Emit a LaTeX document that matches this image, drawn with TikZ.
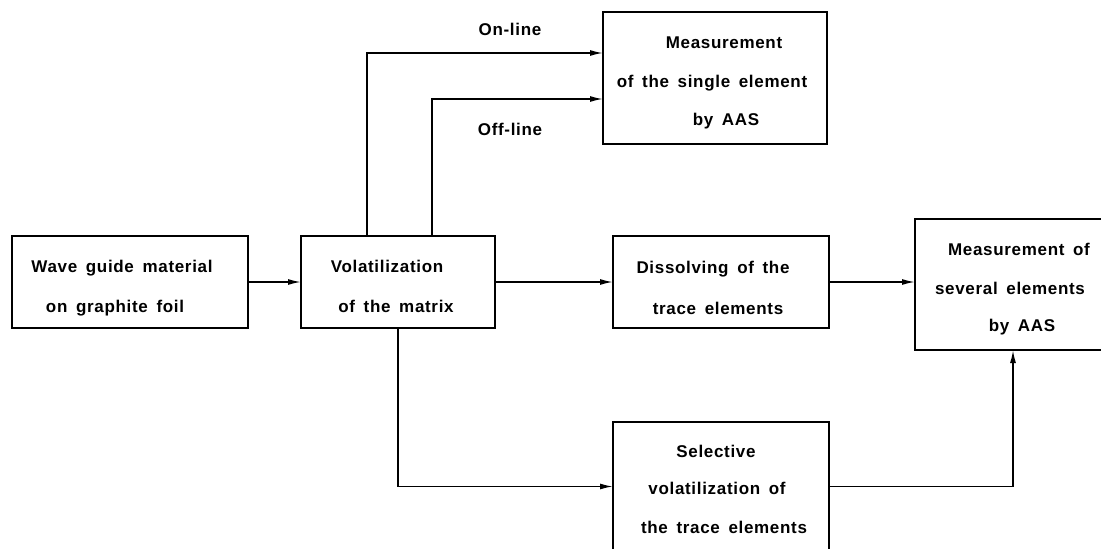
\documentclass[tikz,border=0pt]{standalone}
\usepackage{fontspec}
\setmainfont{Liberation Sans}[LetterSpace=4,WordSpace=1.6]
\usetikzlibrary{arrows.meta}
\begin{document}
\begin{tikzpicture}[x=1pt,y=-1pt,
  line width=1.6pt,
  box/.style={draw,rectangle,inner sep=0pt,outer sep=0pt,line width=1.6pt},
  txt/.style={anchor=base,inner sep=0pt,font=\fontsize{17}{20}\selectfont\bfseries},
  arr/.style={-{Latex[length=13pt,width=6pt]}}]
\useasboundingbox (0,0) rectangle (1101,549);
\clip (0,0) rectangle (1101,549);
% boxes
\node[box,minimum width=236pt,minimum height=92pt] (A) at (130,282) {};
\node[box,minimum width=194pt,minimum height=92pt] (B) at (398,282) {};
\node[box,minimum width=224pt,minimum height=132pt] (C) at (715,78) {};
\node[box,minimum width=216pt,minimum height=92pt] (D) at (721,282) {};
\node[box,minimum width=196pt,minimum height=131pt] (E) at (1013,284.5) {};
\node[box,minimum width=216pt,minimum height=129pt] (F) at (721,486.5) {};
% texts
\node[txt] (a1) at (122,272) {Wave guide material};
\node[txt] (a2) at (115,312) {on graphite foil};
\node[txt] (b1) at (387,272) {Volatilization};
\node[txt] (b2) at (396,312) {of the matrix};
\node[txt] (c1) at (724,48) {Measurement};
\node[txt] (c2) at (712,87) {of the single element};
\node[txt] (c3) at (726,125) {by AAS};
\node[txt] (d1) at (713,273) {Dissolving of the};
\node[txt] (d2) at (718,314) {trace elements};
\node[txt] (e1) at (1019,255) {Measurement of};
\node[txt] (e2) at (1010,294) {several elements};
\node[txt] (e3) at (1022,331) {by AAS};
\node[txt] (f1) at (716,457) {Selective};
\node[txt] (f2) at (717,494) {volatilization of};
\node[txt] (f3) at (724,533) {the trace elements};
\node[txt] (on) at (510,35) {On-line};
\node[txt] (off) at (510,135) {Off-line};
% connectors
\coordinate (onx) at (367,0);
\coordinate (offx) at (432,0);
\draw[arr] (A) -- (B);
\draw[arr] (B) -- (D);
\draw[arr] (D.east) -- (D.east -| E.west);
\draw[arr] (B.north -| onx) |- ([yshift=25pt]C.west);
\draw[arr] (B.north -| offx) |- ([yshift=-21pt]C.west);
\draw[arr] (B.south) |- (F.west);
\draw[arr] (F.east) -| (E.south);
\end{tikzpicture}
\end{document}
